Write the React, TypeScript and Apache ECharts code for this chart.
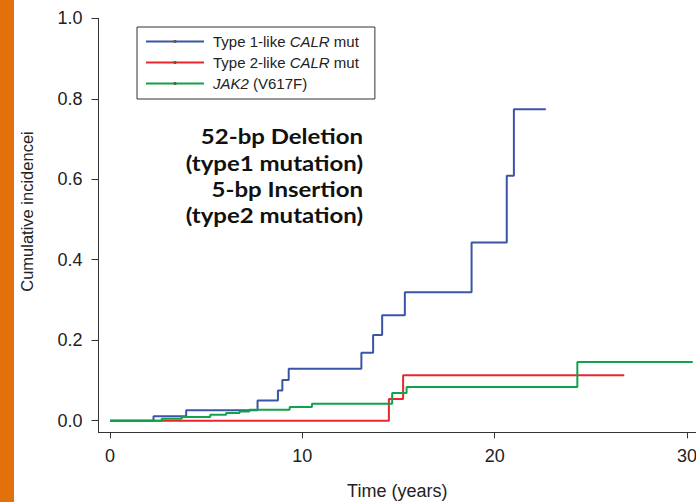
import React, { useEffect, useRef } from "react";
import * as echarts from "echarts";

// Step points: [time in years, cumulative incidence]
const type1Times = [0, 2.26, 3.96, 7.67, 8.73, 8.96, 9.29, 13.07, 13.68, 14.15, 15.33, 18.8, 20.63, 21.0, 22.66];
const type1Values = [0, 0.011, 0.026, 0.05, 0.075, 0.101, 0.129, 0.169, 0.213, 0.262, 0.319, 0.443, 0.609, 0.774, 0.774];

const type2Times = [0, 14.5, 15.24, 26.74];
const type2Values = [0, 0.054, 0.113, 0.113];

const jak2Times = [0, 2.69, 3.73, 5.21, 6.04, 6.74, 7.24, 9.34, 10.5, 14.67, 15.42, 24.3, 30.3];
const jak2Values = [0, 0.005, 0.009, 0.015, 0.019, 0.023, 0.027, 0.034, 0.042, 0.069, 0.084, 0.146, 0.146];

const xTicks = [0, 10, 20, 30];
const yTicks = [0, 0.2, 0.4, 0.6, 0.8, 1.0];

const seriesNames = ["Type 1-like CALR mut", "Type 2-like CALR mut", "JAK2 (V617F)"];
const legendLabels: Record<string, string> = {
  "Type 1-like CALR mut": "{n|Type 1-like }{i|CALR}{n| mut}",
  "Type 2-like CALR mut": "{n|Type 2-like }{i|CALR}{n| mut}",
  "JAK2 (V617F)": "{i|JAK2}{n| (V617F)}",
};
const annotationLines = ["52-bp Deletion", "(type1 mutation)", "5-bp Insertion", "(type2 mutation)"];
const yTitle = "Cumulative incidencei";

const pair = (t: number[], v: number[]) => t.map((x, i) => [x, v[i]]);

const FONT = "'Liberation Sans', Arial, Helvetica, sans-serif";

export default function App() {
  const ref = useRef<HTMLDivElement>(null);

  useEffect(() => {
    if (!ref.current) return;
    const chart = echarts.init(ref.current, undefined, { renderer: "svg" });

    const mkSeries = (name: string, data: number[][], color: string) => ({
      name,
      type: "line",
      step: "end",
      data,
      showSymbol: false,
      symbol: "circle",
      symbolSize: 3,
      itemStyle: { color: "#6b5a3c" },
      lineStyle: { color, width: 2 },
      emphasis: { disabled: true },
    });

    chart.setOption({
      animation: false,
      backgroundColor: "#ffffff",
      textStyle: { fontFamily: FONT },
      grid: {
        left: 98.5,
        right: 0,
        top: 18.3,
        bottom: 69.7,
        containLabel: false,
        outerBoundsMode: "none",
      },
      xAxis: {
        type: "value",
        min: -0.6,
        max: 30.47,
        name: "Time (years)",
        nameLocation: "middle",
        nameGap: 50,
        nameTextStyle: { fontSize: 18, color: "#222", fontFamily: FONT },
        axisLine: { show: true, onZero: false, lineStyle: { color: "#333", width: 1 } },
        axisTick: { show: true, customValues: xTicks, length: 6, lineStyle: { color: "#333" } },
        axisLabel: { customValues: xTicks, fontSize: 18, color: "#222", margin: 15, fontFamily: FONT },
        splitLine: { show: false },
      },
      yAxis: {
        type: "value",
        min: -0.0288,
        max: 1.0,
        axisLine: { show: true, onZero: false, lineStyle: { color: "#333", width: 1 } },
        axisTick: { show: true, customValues: yTicks, length: 7, lineStyle: { color: "#333" } },
        axisLabel: {
          customValues: yTicks,
          fontSize: 18,
          color: "#222",
          margin: 16,
          fontFamily: FONT,
          formatter: (v: number) => v.toFixed(1),
        },
        splitLine: { show: false },
      },
      legend: {
        orient: "vertical",
        left: 137,
        top: 27,
        padding: [7, 16, 8, 8],
        borderColor: "#333",
        borderWidth: 1,
        itemWidth: 58,
        itemHeight: 4,
        itemGap: 6,
        data: seriesNames,
        selectedMode: false,
        formatter: (name: string) => legendLabels[name],
        textStyle: {
          padding: [0, 0, 0, 4],
          rich: {
            n: { fontSize: 15, lineHeight: 16, color: "#222", fontFamily: FONT },
            i: { fontSize: 15, lineHeight: 16, color: "#222", fontFamily: FONT, fontStyle: "italic" },
          },
        },
      },
      graphic: [
        {
          type: "rect",
          shape: { x: 0, y: 0, width: 14, height: 502 },
          style: { fill: "#E4700C" },
          silent: true,
        },
        {
          type: "text",
          x: 27,
          y: 211.5,
          rotation: Math.PI / 2,
          style: {
            text: yTitle,
            align: "center",
            verticalAlign: "middle",
            fontFamily: FONT,
            fontSize: 16.5,
            fill: "#222",
          },
          silent: true,
        },
        {
          type: "text",
          x: 363,
          y: 123.5,
          scaleX: 1.2,
          style: {
            text: annotationLines.join("\n"),
            align: "right",
            verticalAlign: "top",
            fontFamily: "Lato, 'Open Sans', sans-serif",
            fontWeight: "bold",
            fontSize: 20,
            lineHeight: 26.3,
            fill: "#111",
          },
          silent: true,
        },
      ],
      series: [
        mkSeries(seriesNames[0], pair(type1Times, type1Values), "#3A55A5"),
        mkSeries(seriesNames[1], pair(type2Times, type2Values), "#E9262C"),
        mkSeries(seriesNames[2], pair(jak2Times, jak2Values), "#12A24B"),
      ],
    });

    return () => chart.dispose();
  }, []);

  return <div ref={ref} style={{ width: 696, height: 502, position: "absolute", left: 0, top: 0 }} />;
}
